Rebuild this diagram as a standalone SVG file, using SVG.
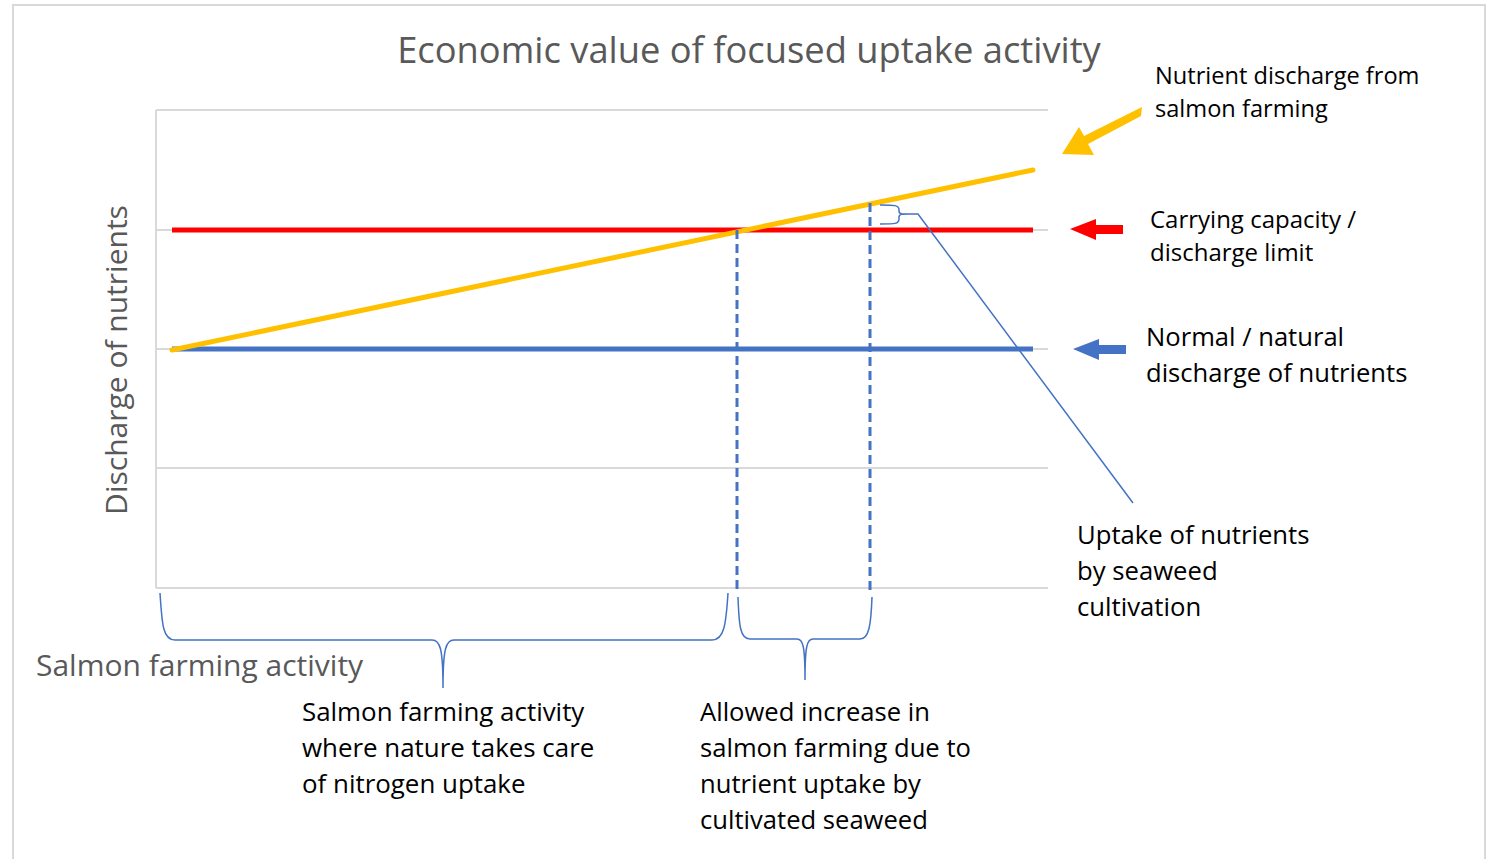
<svg xmlns="http://www.w3.org/2000/svg" width="1486" height="859" viewBox="0 0 1486 859">
<defs>
<style>
.t{font-family:"Open Sans","Noto Sans","Liberation Sans",sans-serif;}
.lbl{font-size:24px;fill:#000;}
.ax{font-size:30px;fill:#595959;}
.grid{stroke:#d9d9d9;stroke-width:2;fill:none;}
.brace{stroke:#4472c4;stroke-width:1.5;fill:none;}
.dash{stroke:#4472c4;stroke-width:3;stroke-dasharray:9,5;fill:none;}
</style>
</defs>
<rect x="13" y="5" width="1472" height="870" fill="#fff" stroke="#d9d9d9" stroke-width="2"/>
<g id="plot">
<line class="grid" x1="156" y1="110" x2="1048" y2="110"/>
<line class="grid" x1="156" y1="230" x2="1048" y2="230"/>
<line class="grid" x1="156" y1="349" x2="1048" y2="349"/>
<line class="grid" x1="156" y1="468" x2="1048" y2="468"/>
<line class="grid" x1="156" y1="588" x2="1048" y2="588"/>
<line class="grid" x1="156" y1="110" x2="156" y2="588"/>
</g>
<g id="series">
<line x1="172" y1="230" x2="1033" y2="230" stroke="#ff0000" stroke-width="5"/>
<line x1="172" y1="349" x2="1033" y2="349" stroke="#4472c4" stroke-width="5"/>
<line x1="172" y1="350" x2="1033" y2="170" stroke="#ffc000" stroke-width="5" stroke-linecap="round"/>
</g>
<g id="connectors">
<line class="dash" x1="737" y1="230" x2="737" y2="593"/>
<line class="dash" x1="870" y1="203" x2="870" y2="593"/>
<path class="brace" d="M880,205 C895,205 899,205 899,210 L899,211 C899,214 902,214 908,214 L918,214 L1133,503 M880,224 C895,224 899,224 899,219 L899,217 C899,214 902,214 908,214"/>
<path class="brace" d="M160,593 C162,625 163,640 175,640 L432,640 C440,640 443,648 443,688 C443,648 446,640 454,640 L712,640 C724,640 726,625 728,593"/>
<path class="brace" d="M738,597 C739,625 740,639 750,639 L797,639 C803,639 805,646 805,680 C805,646 807,639 813,639 L860,639 C869,639 871,625 872,597"/>
<path d="M1142,107 L1141,116 L1088,144 L1094,155 L1062,154 L1079,127 L1084,136 Z" fill="#ffc000"/>
<polygon points="1070,229 1096,219 1096,225 1123,225 1123,234 1096,234 1096,240" fill="#ff0000"/>
<polygon points="1073,349 1099,339 1099,345 1126,345 1126,354 1099,354 1099,360" fill="#4472c4"/>
</g>
<g id="titles" class="t">
<text x="749" y="63" text-anchor="middle" font-size="36.3" fill="#595959">Economic value of focused uptake activity</text>
<text class="ax" transform="translate(127,360) rotate(-90)" text-anchor="middle">Discharge of nutrients</text>
<text class="ax" x="36" y="676" font-size="30.3">Salmon farming activity</text>
</g>
<g id="label-yellow" class="t lbl" font-size="23.6"><text x="1155" y="84" font-size="23.6">Nutrient discharge from</text><text x="1155" y="117" font-size="23.6">salmon farming</text></g>
<g id="label-red" class="t lbl"><text x="1150" y="228">Carrying capacity /</text><text x="1150" y="261">discharge limit</text></g>
<g id="label-blue" class="t lbl"><text x="1146" y="346" font-size="25.6">Normal / natural</text><text x="1146" y="382" font-size="25.6">discharge of nutrients</text></g>
<g id="label-uptake" class="t lbl"><text x="1077" y="544" font-size="25.7">Uptake of nutrients</text><text x="1077" y="580" font-size="25.7">by seaweed</text><text x="1077" y="616" font-size="25.7">cultivation</text></g>
<g id="label-nature" class="t lbl"><text x="302" y="721" font-size="25.9">Salmon farming activity</text><text x="302" y="757" font-size="25.9">where nature takes care</text><text x="302" y="793" font-size="25.9">of nitrogen uptake</text></g>
<g id="label-allowed" class="t lbl"><text x="700" y="721" font-size="25.6">Allowed increase in</text><text x="700" y="757" font-size="25.6">salmon farming due to</text><text x="700" y="793" font-size="25.6">nutrient uptake by</text><text x="700" y="829" font-size="25.6">cultivated seaweed</text></g>
</svg>
